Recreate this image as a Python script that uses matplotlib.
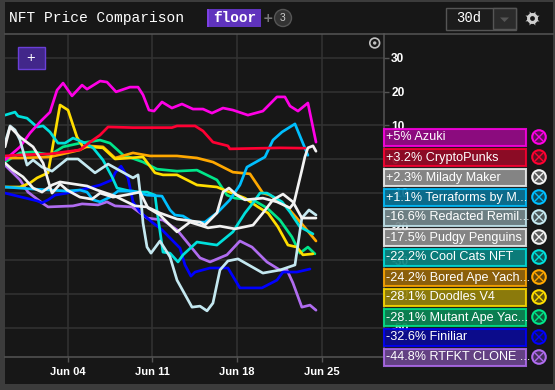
from matplotlib import pyplot as plt
from matplotlib.patches import Rectangle, Circle, Polygon

# days are June dates (0 = May 31), values are % change
azuki_d = [-1.17,0.07,0.9,1.73,2.55,3.13,3.63,4.37,5.2,5.61,6.69,7.26,8.01,9.16,9.83,10.24,10.73,11.15,11.81,12.63,13.46,14.37,15.2,15.94,16.85,17.67,18.91,20.15,21.31,21.97,22.39,23.05,23.87,24.54]
azuki_v = [-0.3,3.6,7.7,11,13.9,20.4,22.5,18.7,21.9,20.7,23.1,22.8,19.9,21.3,21.3,19,14.5,14.2,16.9,15.1,16.3,14.8,14.8,13.6,15.1,14.5,13,14.2,18.4,18.4,15.7,14.2,16.6,5]
punks_d = [-1.17,0.07,2.55,5.03,5.86,6.69,7.35,9.41,12.63,13.05,14.54,15.2,16.02,17.26,17.42,21.56,23.62]
punks_v = [0.9,1.2,1.5,2.7,5,7.1,9.5,9.3,9.3,9.8,9.8,8.3,5,3.9,3,3.3,3.2]
milady_d = [-1.17,-0.5,0.32,1.15,1.89,2.72,3.38,5.61,6.44,7.93,9.58,10.57,11.64,13.05,14.95,15.36,16.35,16.85,17.34,18.0,18.67,20.15,21.31,22.39,22.72,23.37,23.62,23.87,24.29,24.54]
milady_v = [-1.2,-3.3,-5.3,-8.6,-9.8,-7.7,-6.8,-8,-9.2,-11,-13.9,-14.2,-16,-17.8,-18.7,-19.6,-16,-9.8,-8.6,-10.7,-12.1,-11.6,-12.7,-14.5,-13,-3.3,0.6,3.3,3.9,2.3]
terra_d = [-1.17,1.15,3.96,5.03,5.61,6.11,6.69,7.51,8.17,9.41,10.57,11.81,12.47,12.88,13.55,14.37,15.36,16.44,17.42,18.25,18.83,20.32,20.98,21.73,22.8,23.79,23.87]
terra_v = [-8.3,-8.9,-9.5,-9.2,-9.8,-12.1,-12.7,-11.3,-9.5,-9.5,-10.7,-11,-15.1,-16.6,-16.9,-18.7,-18.7,-15.7,-12.1,-7.7,-2.4,0.6,5.6,8,10.4,1.8,1.1]
redacted_d = [-1.17,-0.75,-0.34,0.07,0.65,1.15,1.89,2.72,3.96,4.87,6.27,7.35,9.41,9.83,10.07,10.24,10.57,10.9,11.64,12.47,13.05,14.29,14.95,15.53,16.02,16.6,17.26,18.09,20.15,21.56,22.8,23.37,23.96,24.54]
redacted_v = [4.7,9.8,8.6,5.6,-1.8,-0.3,-2.4,-3.6,0,0,-4.1,-1.5,-5.6,-4.7,-12.1,-19,-26.1,-27.9,-24.3,-29,-35.9,-43.9,-43.6,-45,-42.7,-32.9,-30.2,-29.6,-33.8,-32.9,-31.4,-17.5,-15.1,-16.6]
pudgy_d = [-1.17,-0.75,0.07,1.15,1.98,2.55,2.72,3.38,3.96,5.03,6.02,6.69,7.76,8.75,9.99,10.65,11.64,12.47,13.05,14.12,15.61,16.6,17.84,19.33,20.15,20.98,21.81,22.63,23.37,24.54]
pudgy_v = [3.6,9.5,6.5,3.6,-1.2,-8.3,-10.1,-7.4,-9.2,-11.3,-11.9,-10.1,-11.3,-10.7,-9.8,-14.5,-16.6,-19.6,-21.6,-18.7,-20.4,-19.9,-20.7,-19.6,-16,-12.1,-10.4,-12.7,-17.5,-17.5]
cool_d = [-1.17,-0.34,-0.09,0.65,1.48,1.98,2.55,3.21,3.79,4.45,5.28,6.11,6.93,7.68,8.09,9.16,9.99,10.57,11.23,11.39,11.89,12.47,13.13,13.55,14.7,15.78,16.35,17.67,18.67,19.33,19.91,20.48,21.73,22.39,23.21,24.29]
cool_v = [13,13.9,12.7,12.1,9.5,9.8,8,4.7,4.7,6.2,5,3.3,-0.3,-5.3,-8.6,-9.5,-9.8,-9.8,-10.7,-15.1,-27.6,-27.9,-30.5,-28.4,-24.6,-25.2,-25.5,-21.6,-16,-13,-10.1,-10.1,-12.7,-15.7,-20.1,-22.2]
bored_d = [-1.17,0.07,2.55,5.03,5.69,6.93,7.93,9.41,10.82,13.05,14.7,16.02,17.67,19.08,20.15,20.73,22.14,23.46,24.54]
bored_v = [0.3,0.3,0.6,2.7,3.9,3.6,0.3,1.8,0.9,0.9,0.3,-0.9,-3.9,-4.4,-10.1,-10.7,-14.2,-19.6,-24.3]
doodles_d = [-1.17,0.07,0.9,1.48,2.39,3.38,4.04,4.78,5.28,5.86,6.93,7.93,10.24,11.23,11.89,13.05,14.7,16.35,17.18,18.67,19.74,20.57,21.39,22.22,22.96,23.46,24.29]
doodles_v = [-8.3,-8.3,-7.1,-5.6,-4.1,16,14.5,6.5,3.6,3.6,3.3,0,0.6,-4.1,-4.7,-4.7,-7.7,-8.3,-9.5,-11.6,-14.2,-16,-20.1,-25.5,-26.1,-28.4,-28.1]
mutant_d = [-1.17,0.07,1.15,2.55,3.63,5.03,6.69,7.51,8.59,10.24,11.39,13.05,14.7,16.35,17.18,17.84,19.33,20.48,21.56,22.55,23.21,23.87,24.45]
mutant_v = [-0.9,1.8,2.1,1.2,3.6,4.7,5.6,4.7,1.2,-0.9,-3,-3.6,-3.3,-6.2,-10.7,-11.6,-12.1,-14.5,-18.1,-23.1,-27.9,-26.1,-28.1]
finiliar_d = [-1.17,1.48,1.89,2.39,2.97,3.96,5.03,6.69,7.68,7.93,8.42,9.0,9.41,9.99,10.98,11.81,13.3,13.71,14.2,14.54,15.78,17.26,18.25,20.07,21.31,21.81,22.96,24.04]
finiliar_v = [-10.1,-12.4,-13,-12.1,-10.7,-10.1,-9.2,-7.7,-6.2,-4.1,-2.1,-5.6,-12.7,-15.7,-18.7,-21,-26.4,-31.4,-34.7,-33.5,-32.3,-32.3,-38.2,-38.2,-35.9,-33.5,-33.5,-32.6]
rtfkt_d = [-1.17,0.07,0.73,1.89,2.39,4.45,5.2,6.52,7.26,7.93,9.33,10.57,11.89,13.05,14.95,15.78,17.18,18.25,19.25,20.48,21.56,22.14,22.63,23.37,24.04,24.54]
rtfkt_v = [-1.8,-6.2,-9.8,-13,-14.2,-13.9,-13.3,-13.6,-12.7,-13.9,-14.2,-17.5,-18.1,-21,-29.3,-30.5,-28.4,-24.3,-26.1,-30.5,-32.9,-32.9,-36.7,-43.9,-43.3,-44.8]

labels = ['+5% Azuki', '+3.2% CryptoPunks', '+2.3% Milady Maker', '+1.1% Terraforms by M...',
          '-16.6% Redacted Remil...', '-17.5% Pudgy Penguins', '-22.2% Cool Cats NFT', '-24.2% Bored Ape Yach...',
          '-28.1% Doodles V4', '-28.1% Mutant Ape Yac...', '-32.6% Finiliar', '-44.8% RTFKT CLONE ...']
colors = ['#ff00e6', '#ff0033', '#f2f2f2', '#00bfff', '#c4e8f0', '#f2f2f2',
          '#00e0dc', '#ffa800', '#ffdd00', '#00e68a', '#0000ff', '#b06cf0']
xticks = [4, 11, 18, 25]
xticklabels = ['Jun 04', 'Jun 11', 'Jun 18', 'Jun 25']
yticks = [30, 20, 10, 0, -10, -20, -30, -40, -50]

BG = '#171717'
W, H = 555, 390
fig = plt.figure(figsize=(W/100, H/100), dpi=100, facecolor='#3c3c3c')

# outer panel, title bar and other page furniture
page = fig.add_axes([0, 0, 1, 1], zorder=0)
page.set_xlim(0, W)
page.set_ylim(H, 0)
page.axis('off')
page.add_patch(Rectangle((5, 2), 548, 382, fc=BG, ec='none'))

ax = fig.add_axes([5/W, 1-357/H, 378.5/W, 323/H], zorder=1)
ax.set_facecolor('none')
ax.set_xlim(-1.17, 30.12)
ax.set_ylim(-58.67, 37.04)
ax.yaxis.tick_right()
ax.set_xticks(xticks)
ax.set_xticklabels(xticklabels, fontfamily='Liberation Sans', fontweight='bold', fontsize=8, color='white')
ax.set_yticks(yticks)
ax.set_yticklabels([str(t) for t in yticks], fontfamily='Liberation Sans', fontweight='bold', fontsize=8.6, color='white')
ax.tick_params(axis='x', length=3.6, width=1, color='#555555', pad=3.5)
ax.tick_params(axis='y', length=3.6, width=1, color='#555555', pad=2)
ax.grid(color='#333333', linewidth=1.1)
ax.set_axisbelow(True)
for side in ['left', 'top']:
    ax.spines[side].set_visible(False)
for side in ['right', 'bottom']:
    ax.spines[side].set_color('#555555')
    ax.spines[side].set_linewidth(1.1)

series = [(rtfkt_d, rtfkt_v, 11), (finiliar_d, finiliar_v, 10), (mutant_d, mutant_v, 9),
          (bored_d, bored_v, 7), (doodles_d, doodles_v, 8), (cool_d, cool_v, 6),
          (terra_d, terra_v, 3), (azuki_d, azuki_v, 0), (punks_d, punks_v, 1),
          (redacted_d, redacted_v, 4), (pudgy_d, pudgy_v, 5), (milady_d, milady_v, 2)]
for d, v, i in series:
    ax.plot(d, v, color=colors[i], linewidth=1.95, solid_joinstyle='round', solid_capstyle='round')

# top layer: legend boxes and controls sit over the axis labels
top = fig.add_axes([0, 0, 1, 1], zorder=2)
top.set_xlim(0, W)
top.set_ylim(H, 0)
top.axis('off')
top.patch.set_alpha(0)

for i, (lab, c) in enumerate(zip(labels, colors)):
    y = 128 + 20*i
    top.add_patch(Rectangle((384, y+1), 141.5, 16.5, fc=BG, alpha=0.85, ec='none'))
    top.add_patch(Rectangle((384, y+1), 141.5, 16.5, fc=c, alpha=0.5, ec='none'))
    top.add_patch(Rectangle((384, y+1), 141.5, 16.5, fc='none', ec=c, alpha=0.85, lw=1.5))
    top.text(386, y+9.5, lab, color='white', fontsize=9.1, fontfamily='Liberation Sans', va='center', ha='left')
    top.add_patch(Circle((539, y+9), 6.8, fc=c, alpha=0.3, ec='none'))
    top.add_patch(Circle((539, y+9), 6.8, fc='none', ec=c, lw=1.5))
    top.plot([535.5, 542.5], [y+5.5, y+12.5], color=c, lw=1)
    top.plot([535.5, 542.5], [y+12.5, y+5.5], color=c, lw=1)

# title bar
top.plot([5, 553], [34, 34], color='#555555', lw=1.1)
top.text(9, 18, 'NFT Price Comparison', color='white', fontsize=10.5, fontfamily='Liberation Mono', va='center', ha='left')
top.add_patch(Rectangle((207, 9), 54, 18, fc='#5f33bd', ec='none'))
top.add_patch(Rectangle((207, 9), 2, 18, fc='#7c3fe4', ec='none'))
top.text(235, 18, 'floor', color='white', fontsize=10.4, fontweight='bold', fontfamily='Liberation Mono', va='center', ha='center')
top.text(268, 18.5, '+', color='#777777', fontsize=9, fontweight='bold', va='center', ha='center')
top.add_patch(Circle((283, 18), 8.5, fc='#333333', ec='#555555', lw=1))
top.text(283, 18, '3', color='#cccccc', fontsize=7.5, fontfamily='Liberation Sans', va='center', ha='center')

top.add_patch(Rectangle((445.5, 7.5), 70, 22, fc='#1c1c1c', ec='#555555', lw=1))
top.add_patch(Rectangle((493, 8), 22.5, 21, fc='#2b2b2b', ec='#555555', lw=1))
top.text(469, 18, '30d', color='white', fontsize=10, fontfamily='Liberation Mono', va='center', ha='center')
top.add_patch(Polygon([(500, 17.5), (509, 17.5), (504.5, 22)], fc='#555555', ec='none'))

# gear
top.scatter([532], [18], s=120, marker=(8, 1, 22), color='#cfcfcf', linewidths=0, zorder=3)
top.scatter([532], [18], s=62, marker='o', color='#cfcfcf', linewidths=0, zorder=3)
top.scatter([532], [18], s=12, marker='o', color=BG, linewidths=0, zorder=4)

# zoom button and reset icon
top.add_patch(Rectangle((17.5, 46.5), 27, 22, fc='#42278a', ec='#6a3fd8', lw=1))
top.text(31, 58, '+', color='white', fontsize=10.5, fontfamily='Liberation Sans', va='center', ha='center')
top.add_patch(Circle((374.7, 43), 4.9, fc='none', ec='#c0c0c0', lw=1.2))
top.add_patch(Circle((374.7, 43), 1.7, fc='#c0c0c0', ec='none'))

plt.savefig('out.png', dpi=100, facecolor=fig.get_facecolor())
